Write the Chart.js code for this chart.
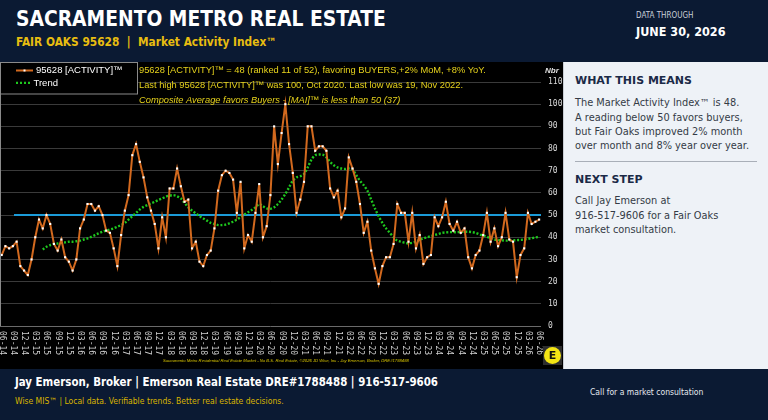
<!DOCTYPE html>
<html>
<head>
<meta charset="utf-8">
<script src="https://cdn.jsdelivr.net/npm/chart.js@4.4.1/dist/chart.umd.min.js"></script>
<style>
html, body { margin: 0; padding: 0; width: 768px; height: 420px; overflow: hidden; background: #0b1a33; font-family: "DejaVu Sans", sans-serif; }
.abs { position: absolute; white-space: nowrap; line-height: 1.2; }
.cond { font-family: "DejaVu Sans Condensed", "DejaVu Sans", sans-serif; font-stretch: condensed; }
#header { position: absolute; left: 0; top: 0; width: 768px; height: 61px; background: #0b1a33; }
#title { left: 16px; top: 7px; color: #fff; font-weight: bold; font-size: 20.8px; }
#sub { left: 16px; top: 35.2px; color: #e8bd10; font-weight: bold; font-size: 11.8px; }
#thru { left: 636px; top: 11.4px; color: #c9ced8; font-size: 8px; }
#date { left: 636px; top: 23.7px; color: #fff; font-weight: bold; font-size: 12.5px; }
#chartbox { position: absolute; left: 0; top: 62px; width: 563px; height: 307px; background: #000; }
#panel { position: absolute; left: 563px; top: 62px; width: 205px; height: 307px; background: #eef2f7; border-left: 1px solid #c8cdd4; box-sizing: border-box; }
#panel .h { left: 11px; color: #1b2a47; font-weight: bold; font-size: 11px; }
#panel .b { left: 11px; color: #343b46; font-size: 9.8px; line-height: 14.35px; }
#divider { position: absolute; left: 11px; top: 98.5px; width: 182px; height: 1px; background: #a9afb8; }
#footer { position: absolute; left: 0; top: 369px; width: 768px; height: 51px; background: #0b1a33; }
#f1 { left: 15px; top: 7.3px; color: #fff; font-weight: bold; font-size: 11.4px; }
#f2 { left: 15px; top: 27px; color: #d9b400; font-size: 8.5px; }
#f3 { left: 590px; top: 18px; color: #e4e8ee; font-size: 8.5px; }
</style>
</head>
<body>
<div id="header">
  <div id="title" class="abs cond">SACRAMENTO METRO REAL ESTATE</div>
  <div id="sub" class="abs cond">FAIR OAKS 95628&nbsp; |&nbsp; Market Activity Index™</div>
  <div id="thru" class="abs cond">DATA THROUGH</div>
  <div id="date" class="abs cond">JUNE 30, 2026</div>
</div>
<div id="chartbox"><canvas id="myChart" width="563" height="307"></canvas></div>
<div id="panel">
  <div class="abs h" style="top:12.3px">WHAT THIS MEANS</div>
  <div class="abs b" style="top:34.3px">The Market Activity Index™ is 48.<br>A reading below 50 favors buyers,<br>but Fair Oaks improved 2% month<br>over month and 8% year over year.</div>
  <div id="divider"></div>
  <div class="abs h" style="top:110.6px">NEXT STEP</div>
  <div class="abs b" style="top:132.3px">Call Jay Emerson at<br>916-517-9606 for a Fair Oaks<br>market consultation.</div>
</div>
<div id="footer">
  <div id="f1" class="abs cond">Jay Emerson, Broker | Emerson Real Estate DRE#1788488 | 916-517-9606</div>
  <div id="f2" class="abs cond">Wise MIS™ | Local data. Verifiable trends. Better real estate decisions.</div>
  <div id="f3" class="abs cond">Call for a market consultation</div>
</div>
<script>
// monthly index, 06-14 .. 06-26
const activity = [
    32, 36, 35, 36, 38, 27, 25, 23, 30, 40,
    48, 44, 50, 46, 37, 34, 39, 31, 29, 25,
    30, 44, 48, 55, 55, 52, 54, 50, 43, 42,
    35, 27, 41, 52, 59, 77, 82, 74, 67, 58,
    52, 46, 35, 49, 40, 62, 62, 71, 63, 56,
    57, 35, 38, 29, 27, 32, 34, 44, 61, 68,
    70, 69, 66, 51, 65, 35, 41, 38, 51, 64,
    40, 45, 59, 90, 73, 87, 100, 82, 69, 51,
    57, 65, 90, 90, 79, 81, 81, 79, 62, 58,
    61, 49, 53, 76, 71, 65, 55, 42, 47, 34,
    26, 19, 27, 31, 31, 37, 55, 51, 51, 38,
    51, 35, 41, 28, 31, 32, 49, 45, 49, 56,
    46, 43, 47, 42, 44, 31, 26, 32, 34, 41,
    51, 38, 44, 36, 40, 51, 39, 38, 22, 32,
    35, 51, 46, 47, 48
];
// trend starts at month 11
const trend = [
    null, null, null, null, null, null, null, null, null, null,
    null, 34.5, 35.7, 36.5, 37, 37.2, 37.5, 37.7, 38, 38,
    38.2, 38.5, 39, 39.5, 40.2, 41, 41.8, 42.5, 43, 43.5,
    44, 44.8, 45.5, 46.5, 48, 49.5, 51, 52.5, 53.7, 54.5,
    55.3, 56, 56.8, 57.5, 58.3, 58.8, 59, 58.5, 57.5, 55.5,
    53.5, 52, 50.8, 49.5, 48.5, 47.5, 46.5, 46, 45.5, 45.5,
    45.7, 46.3, 47, 48, 49, 50.2, 51.3, 52.3, 53.5, 55,
    54, 53, 52.8, 53.5, 55, 57, 59.5, 62.5, 65.5, 67,
    67.5, 68.5, 71.5, 75, 77, 77.3, 77.3, 76, 74, 72.5,
    71.5, 71, 70.8, 71, 70.5, 68, 65.5, 63.5, 61, 57,
    53, 49.5, 46.5, 44, 42, 40, 38.5, 38, 37.5, 37.3,
    37.5, 38, 38.8, 39.5, 40, 40.5, 41, 41.5, 42, 42.2,
    42.3, 42.3, 42.3, 42.4, 42.5, 42.5, 42.3, 42, 41.3, 40.8,
    40.2, 39.5, 39, 38.8, 38.6, 38.5, 38.5, 38.6, 38.7, 38.8,
    39, 39.3, 39.6, 39.9, 40.2
];
// one label every 3 months
const tickLabels = [
    '06-14', '09-14', '12-14', '03-15', '06-15', '09-15', '12-15', '03-16', '06-16', '09-16',
    '12-16', '03-17', '06-17', '09-17', '12-17', '03-18', '06-18', '09-18', '12-18', '03-19',
    '06-19', '09-19', '12-19', '03-20', '06-20', '09-20', '12-20', '03-21', '06-21', '09-21',
    '12-21', '03-22', '06-22', '09-22', '12-22', '03-23', '06-23', '09-23', '12-23', '03-24',
    '06-24', '09-24', '12-24', '03-25', '06-25', '09-25', '12-25', '03-26', '06-26'
];
const midLevel = 50;
const midStart = 3.3;

const YELLOW = '#e6d21c';
const ORANGE = '#d2691e';
const GREEN = '#1ec81e';

const overlay = {
    id: 'overlay',
    afterDraw(chart) {
        const c = chart.ctx;
        const area = chart.chartArea;
        const xs = chart.scales.x;
        c.save();
        // left border
        c.strokeStyle = '#8a8a8a';
        c.lineWidth = 1;
        c.beginPath();
        c.moveTo(area.left + 0.5, area.top);
        c.lineTo(area.left + 0.5, area.bottom);
        c.stroke();

        // x labels, rotated clockwise
        c.fillStyle = '#cfcfcf';
        c.font = '8px "DejaVu Sans Mono"';
        c.textAlign = 'left';
        c.textBaseline = 'middle';
        tickLabels.forEach((lab, k) => {
            const x = xs.getPixelForValue(k * 3);
            c.save();
            c.translate(x, area.bottom + 5);
            c.rotate(Math.PI / 2);
            c.fillText(lab, 0, 0);
            c.restore();
        });

        // legend box
        c.fillStyle = '#000';
        c.fillRect(0, 0, 138, 32);
        c.strokeStyle = '#8a8a8a';
        c.strokeRect(0.5, 0.5, 137, 31.5);
        c.strokeStyle = ORANGE;
        c.lineWidth = 2;
        c.beginPath(); c.moveTo(16, 8.5); c.lineTo(33, 8.5); c.stroke();
        c.fillStyle = '#fff';
        c.fillRect(23.5, 7.5, 2, 2);
        c.strokeStyle = GREEN;
        c.lineWidth = 2.2;
        c.setLineDash([2, 2]);
        c.beginPath(); c.moveTo(16, 20.8); c.lineTo(31, 20.8); c.stroke();
        c.setLineDash([]);
        c.fillStyle = '#fff';
        c.font = '9.5px "Liberation Sans"';
        c.fillText('95628 [ACTIVITY]™', 36, 8.8);
        c.fillText('Trend', 33.5, 21);

        // annotations
        c.fillStyle = YELLOW;
        c.font = '9.3px "Liberation Sans"';
        c.fillText('95628 [ACTIVITY]™ = 48 (ranked 11 of 52), favoring BUYERS,+2% MoM, +8% YoY.', 139, 8.7);
        c.fillText('Last high 95628 [ACTIVITY]™ was 100, Oct 2020. Last low was 19, Nov 2022.', 139, 23.5);
        c.font = 'italic 9.3px "Liberation Sans"';
        c.fillText('Composite Average favors Buyers - [MAI]™ is less than 50 (37)', 139, 38);

        c.fillStyle = '#e0e0e0';
        c.font = 'italic bold 8px "Liberation Sans"';
        c.fillText('Nbr', 545, 8.5);

        // credit line
        c.fillStyle = '#d8c400';
        c.font = 'italic 4.2px "Liberation Sans"';
        c.fillText('Sacramento Metro Residential Real Estate Market - No B.S. Real Estate, ©2026 JD Wise, Inc - Jay Emerson, Broker, DRE#1788488', 163, 299);

        // logo
        c.fillStyle = '#2e2e2e';
        c.fillRect(543, 284, 19, 19);
        c.fillStyle = '#f3e414';
        c.beginPath(); c.arc(552.5, 293.5, 8.5, 0, Math.PI * 2); c.fill();
        c.fillStyle = '#111';
        c.font = 'bold 11px "DejaVu Sans"';
        c.textAlign = 'center';
        c.fillText('E', 552.5, 294);
        c.restore();
    }
};

const chart = new Chart(document.getElementById('myChart'), {
    type: 'line',
    data: {
        datasets: [
            {
                label: '95628 [ACTIVITY]™',
                data: activity.map((v, i) => ({ x: i, y: v })),
                borderColor: ORANGE,
                borderWidth: 2,
                pointStyle: 'rect',
                pointRadius: 1.5,
                pointBorderWidth: 0,
                pointBackgroundColor: '#fff',
                tension: 0,
                order: 1
            },
            {
                label: 'Trend',
                data: trend.map((v, i) => ({ x: i, y: v })),
                borderColor: GREEN,
                borderWidth: 2.4,
                borderDash: [2, 1.8],
                pointRadius: 0,
                tension: 0.3,
                order: 2
            },
            {
                label: 'mid',
                data: [{ x: midStart, y: midLevel }, { x: activity.length + 1, y: midLevel }],
                borderColor: '#1b9bd8',
                borderWidth: 2,
                pointRadius: 0,
                order: 3
            }
        ]
    },
    options: {
        responsive: false,
        animation: false,
        layout: { autoPadding: false, padding: { top: 20, bottom: 43, left: 0, right: 0 } },
        plugins: { legend: { display: false }, tooltip: { enabled: false } },
        scales: {
            x: { type: 'linear', min: -0.45, max: 144.5, display: false },
            y: {
                position: 'right',
                min: 0,
                max: 110,
                afterFit: (s) => { s.width = 22; },
                ticks: { stepSize: 10, color: '#d8d8d8', padding: 7, font: { family: 'DejaVu Sans Mono', size: 8 } },
                grid: { color: (ctx) => ctx.tick && ctx.tick.value === 0 ? '#6a6a6a' : '#3a3a3a', drawTicks: false },
                border: { display: false }
            }
        }
    },
    plugins: [overlay]
});
</script>
</body>
</html>
